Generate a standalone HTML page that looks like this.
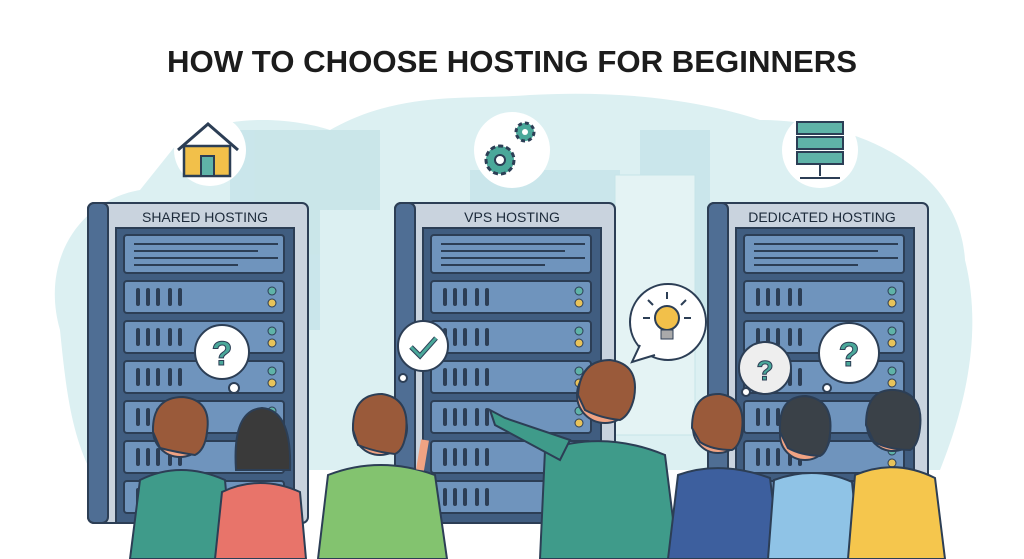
<!DOCTYPE html><html><head><style>body{margin:0;background:#fff}svg{display:block}</style></head><body>
<svg width="1024" height="559" viewBox="0 0 1024 559" xmlns="http://www.w3.org/2000/svg" font-family="Liberation Sans, sans-serif">
<defs>
<g id="unit">
<rect x="0" y="0" width="160" height="32" rx="3" fill="#6f94bd" stroke="#2c3e55" stroke-width="2"/>
<rect x="12" y="7" width="4" height="18" rx="2" fill="#2c3e55"/><rect x="22" y="7" width="4" height="18" rx="2" fill="#2c3e55"/><rect x="32" y="7" width="4" height="18" rx="2" fill="#2c3e55"/><rect x="44" y="7" width="4" height="18" rx="2" fill="#2c3e55"/><rect x="54" y="7" width="4" height="18" rx="2" fill="#2c3e55"/>
<circle cx="148" cy="10" r="4" fill="#5fb3a8" stroke="#2c3e55"/><circle cx="148" cy="22" r="4" fill="#e8c35a" stroke="#2c3e55"/>
</g>
<g id="rack">
<rect x="0" y="0" width="220" height="320" rx="6" fill="#c9d3de" stroke="#2c3e55" stroke-width="2"/>
<rect x="0" y="0" width="20" height="320" rx="6" fill="#4f6e94" stroke="#2c3e55" stroke-width="2"/>
<rect x="28" y="25" width="178" height="295" fill="#405d80" stroke="#2c3e55" stroke-width="2"/>
<rect x="36" y="32" width="160" height="38" rx="3" fill="#6f94bd" stroke="#2c3e55" stroke-width="2"/>
<g stroke="#2c3e55" stroke-width="2"><line x1="46" y1="41" x2="190" y2="41"/><line x1="46" y1="48" x2="170" y2="48"/><line x1="46" y1="55" x2="190" y2="55"/><line x1="46" y1="62" x2="150" y2="62"/></g>
<use href="#unit" x="36" y="78"/><use href="#unit" x="36" y="118"/><use href="#unit" x="36" y="158"/><use href="#unit" x="36" y="198"/><use href="#unit" x="36" y="238"/><use href="#unit" x="36" y="278"/>
</g>
</defs>
<path d="M60 330 C40 260 80 200 140 190 L180 140 C230 110 300 120 330 130 C400 90 470 100 530 95 C620 90 700 100 760 120 C860 120 960 170 965 260 C985 340 960 420 940 470 L90 470 C70 430 65 380 60 330Z" fill="#dcf0f2"/>
<g fill="#c6e4e8" opacity=".8"><rect x="230" y="130" width="90" height="200"/><rect x="320" y="130" width="60" height="80"/><rect x="640" y="130" width="70" height="200"/><rect x="470" y="170" width="150" height="40"/></g>
<rect x="615" y="175" width="80" height="260" fill="#e4f3f4" stroke="#c6e4e8"/>
<text x="512" y="72" text-anchor="middle" font-size="31" font-weight="bold" fill="#1c1c1c" textLength="690" lengthAdjust="spacingAndGlyphs">HOW TO CHOOSE HOSTING FOR BEGINNERS</text>
<circle cx="210" cy="150" r="36" fill="#fff"/><circle cx="512" cy="150" r="38" fill="#fff"/><circle cx="820" cy="150" r="38" fill="#fff"/>
<path d="M178 150 L208 124 L238 150" fill="none" stroke="#2c3e55" stroke-width="3"/><rect x="184" y="146" width="46" height="30" fill="#f2c04a" stroke="#2c3e55" stroke-width="2.5"/><rect x="201" y="156" width="13" height="20" fill="#5fb3a8" stroke="#2c3e55" stroke-width="2"/>
<circle cx="500" cy="160" r="14" fill="#4aa89a" stroke="#2c3e55" stroke-width="3" stroke-dasharray="5 3"/><circle cx="500" cy="160" r="5" fill="#fff" stroke="#2c3e55" stroke-width="2"/>
<circle cx="525" cy="132" r="9" fill="#4aa89a" stroke="#2c3e55" stroke-width="3" stroke-dasharray="4 3"/><circle cx="525" cy="132" r="3" fill="#fff"/>
<g stroke="#2c3e55" stroke-width="2"><rect x="797" y="122" width="46" height="12" fill="#5fb3a8"/><rect x="797" y="137" width="46" height="12" fill="#5fb3a8"/><rect x="797" y="152" width="46" height="12" fill="#5fb3a8"/><line x1="820" y1="164" x2="820" y2="176"/><line x1="800" y1="178" x2="840" y2="178"/></g>
<use href="#rack" x="88" y="203"/><use href="#rack" x="395" y="203"/><use href="#rack" x="708" y="203"/>
<text x="205" y="222" text-anchor="middle" font-size="14" fill="#1c2a3a">SHARED HOSTING</text>
<text x="512" y="222" text-anchor="middle" font-size="14" fill="#1c2a3a">VPS HOSTING</text>
<text x="822" y="222" text-anchor="middle" font-size="14" fill="#1c2a3a">DEDICATED HOSTING</text>
<g stroke="#2c3e55" stroke-width="2">
<circle cx="222" cy="352" r="27" fill="#fff"/><circle cx="234" cy="388" r="5" fill="#fff"/>
<circle cx="423" cy="346" r="25" fill="#fff"/><circle cx="403" cy="378" r="4" fill="#fff"/>
<circle cx="668" cy="322" r="38" fill="#fff"/><path d="M640 345 L632 362 L655 355" fill="#fff"/>
<circle cx="765" cy="368" r="26" fill="#eee"/><circle cx="746" cy="392" r="4" fill="#fff"/>
<circle cx="849" cy="353" r="30" fill="#fff"/><circle cx="827" cy="388" r="4" fill="#fff"/>
</g>
<g font-size="34" font-weight="bold" fill="#4aa89a" text-anchor="middle" stroke="#2c3e55" stroke-width="1"><text x="222" y="365">?</text><text x="765" y="380" font-size="28">?</text><text x="849" y="366">?</text></g>
<path d="M411 347 l9 9 l16 -18" fill="none" stroke="#2c3e55" stroke-width="5"/><path d="M411 347 l9 9 l16 -18" fill="none" stroke="#4aa89a" stroke-width="3"/>
<circle cx="667" cy="318" r="12" fill="#f2c04a" stroke="#2c3e55" stroke-width="2"/><rect x="661" y="330" width="12" height="9" fill="#aaa" stroke="#2c3e55"/>
<g stroke="#2c3e55" stroke-width="2"><line x1="667" y1="292" x2="667" y2="299"/><line x1="648" y1="300" x2="653" y2="305"/><line x1="686" y1="300" x2="681" y2="305"/><line x1="643" y1="318" x2="650" y2="318"/><line x1="684" y1="318" x2="691" y2="318"/></g>
<!-- people -->
<g stroke="#2c3e55" stroke-width="2">
<path d="M130 559 L140 480 Q180 460 225 480 L232 559Z" fill="#3f9b8a"/><circle cx="180" cy="430" r="27" fill="#f0a383"/><path d="M153 432 Q152 397 183 397 Q212 400 207 432 Q205 450 195 455 Q175 452 160 448 Z" fill="#9a5a3a"/>
<path d="M215 559 L222 492 Q260 474 300 492 L306 559Z" fill="#e8746a"/><path d="M236 470 Q232 410 262 408 Q292 410 290 470 Z" fill="#3a3a3a"/>
<path d="M318 559 L328 475 Q380 455 435 475 L447 559Z" fill="#83c36f"/><circle cx="380" cy="428" r="27" fill="#f0a383"/><path d="M353 430 Q352 394 382 394 Q410 398 406 432 Q404 450 395 454 Q375 452 358 445 Z" fill="#9a5a3a"/>
<path d="M420 470 L425 440" stroke-width="8" stroke="#f0a383"/>
<path d="M540 559 L545 450 Q605 430 665 455 L678 559Z" fill="#3f9b8a"/><path d="M560 460 L495 425 L490 410 L505 418 L570 440Z" fill="#3f9b8a"/><circle cx="605" cy="395" r="28" fill="#f0a383"/><path d="M578 395 Q580 360 610 360 Q640 364 634 398 Q630 415 620 420 Q600 418 585 410 Z" fill="#9a5a3a"/>
<path d="M668 559 L678 475 Q720 460 770 478 L780 559Z" fill="#3d5f9e"/><circle cx="718" cy="428" r="25" fill="#f0a383"/><path d="M692 428 Q692 393 720 394 Q746 398 742 430 Q740 446 732 450 Q712 450 700 442 Z" fill="#9a5a3a"/>
<path d="M768 559 L774 480 Q815 465 852 482 L860 559Z" fill="#8fc3e6"/><circle cx="805" cy="435" r="25" fill="#f0a383"/><path d="M780 432 Q778 396 806 396 Q834 400 830 434 Q828 452 820 456 Q800 455 788 448 Z" fill="#3a4148"/>
<path d="M848 559 L855 475 Q895 458 935 478 L945 559Z" fill="#f5c64d"/><circle cx="893" cy="425" r="26" fill="#f0a383"/><path d="M866 425 Q866 388 895 390 Q924 393 920 428 Q918 446 910 450 Q890 450 874 442 Z" fill="#3a4148"/>
</g>
</svg>
</body></html>
